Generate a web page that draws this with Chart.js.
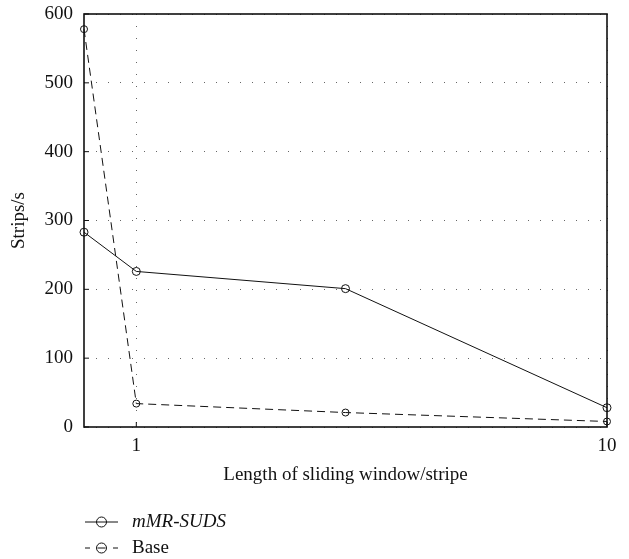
<!DOCTYPE html>
<html>
<head>
<meta charset="utf-8">
<script src="https://cdn.jsdelivr.net/npm/chart.js@4"></script>
<style>
  html, body { margin: 0; padding: 0; background: #fff; }
  #wrap { width: 629px; height: 559px; }
</style>
</head>
<body>
<div id="wrap"><canvas id="speedChart" width="629" height="559"></canvas></div>
<script>
// 가로축: sliding window/stripe 길이
const windowLen = [0, 1, 5, 10];
const xTicks = [1, 10];
// 시리즈 값 (Strips/s)
const mmrSuds = [283, 226, 201, 28];
const baseVals = [578, 34, 21, 8];
const seriesNames = ['mMR-SUDS', 'Base'];

const serif = "'Liberation Serif', 'DejaVu Serif', serif";
const fontSize = 19;

function toPoints(ys) {
    return windowLen.map((x, i) => ({ x: x, y: ys[i] }));
}

// 박스 테두리 + 안쪽 눈금 + 아래 범례
const frameAndLegend = {
    id: 'frameAndLegend',
    afterDraw(chart) {
        const ctx = chart.ctx;
        const a = chart.chartArea;
        const xs = chart.scales.x, ys = chart.scales.y;
        ctx.save();
        ctx.strokeStyle = '#111';
        ctx.lineWidth = 1.6;
        ctx.strokeRect(a.left, a.top, a.right - a.left, a.bottom - a.top);
        ctx.lineWidth = 1;
        ys.ticks.forEach(t => {
            const py = ys.getPixelForValue(t.value);
            ctx.beginPath(); ctx.moveTo(a.left, py); ctx.lineTo(a.left + 5, py); ctx.stroke();
        });
        xs.ticks.forEach(t => {
            const px = xs.getPixelForValue(t.value);
            ctx.beginPath(); ctx.moveTo(px, a.bottom); ctx.lineTo(px, a.bottom - 5); ctx.stroke();
        });

        // 범례
        chart.data.datasets.forEach((ds, i) => {
            const y = 522 + i * 26;
            const x0 = 85, x1 = 118, cx = 101.5;
            ctx.strokeStyle = '#111';
            ctx.lineWidth = 1;
            if (ds.borderDash && ds.borderDash.length) {
                ctx.beginPath(); ctx.moveTo(x0, y); ctx.lineTo(x0 + 5, y); ctx.stroke();
                ctx.beginPath(); ctx.moveTo(x1 - 5, y); ctx.lineTo(x1, y); ctx.stroke();
                ctx.beginPath(); ctx.moveTo(cx - 4, y); ctx.lineTo(cx + 4, y); ctx.stroke();
            } else {
                ctx.beginPath(); ctx.moveTo(x0, y); ctx.lineTo(x1, y); ctx.stroke();
            }
            ctx.beginPath(); ctx.arc(cx, y, 5, 0, Math.PI * 2); ctx.stroke();
            ctx.fillStyle = '#111';
            ctx.font = (i === 0 ? 'italic ' : '') + fontSize + "px " + serif;
            ctx.textBaseline = 'middle';
            ctx.textAlign = 'left';
            ctx.fillText(ds.label, 132, y);
        });
        ctx.restore();
    }
};

const ChartA = document.getElementById('speedChart');
const speedChart = new Chart(ChartA, {
    type: 'line',
    data: {
        datasets: [{
            label: seriesNames[0],
            data: toPoints(mmrSuds),
            borderColor: '#111',
            borderWidth: 1,
            pointStyle: 'circle',
            pointRadius: 4,
            pointBorderWidth: 1,
            pointBorderColor: '#111',
            pointBackgroundColor: 'rgba(0,0,0,0)',
            tension: 0,
            clip: false
        },
        {
            label: seriesNames[1],
            data: toPoints(baseVals),
            borderColor: '#111',
            borderWidth: 1,
            borderDash: [8, 5],
            pointStyle: 'circle',
            pointRadius: 3.5,
            pointBorderWidth: 1,
            pointBorderColor: '#111',
            pointBackgroundColor: 'rgba(0,0,0,0)',
            tension: 0,
            clip: false
        }]
    },
    options: {
        responsive: false,
        animation: false,
        layout: { padding: { top: 14, right: 22, left: 0, bottom: 73 } },
        scales: {
            x: {
                type: 'linear',
                min: 0,
                max: 10,
                afterBuildTicks: (scale) => { scale.ticks = xTicks.map(v => ({ value: v })); },
                afterFit: (scale) => { scale.height = 59; scale.paddingRight = 0; scale.paddingLeft = 0; },
                grid: {
                    color: '#666',
                    lineWidth: 1,
                    drawTicks: false
                },
                border: { display: false, dash: [1, 11] },
                ticks: {
                    color: '#111',
                    padding: 8,
                    maxRotation: 0,
                    font: { family: serif, size: fontSize }
                },
                title: {
                    display: true,
                    text: 'Length of sliding window/stripe',
                    color: '#111',
                    font: { family: serif, size: fontSize },
                    padding: { top: 6, bottom: 0 }
                }
            },
            y: {
                min: 0,
                max: 600,
                ticks: {
                    stepSize: 100,
                    color: '#111',
                    padding: 11,
                    font: { family: serif, size: fontSize }
                },
                afterFit: (scale) => { scale.width = 84; scale.paddingTop = 0; scale.paddingBottom = 0; },
                grid: {
                    color: '#666',
                    lineWidth: 1,
                    drawTicks: false
                },
                border: { display: false, dash: [1, 11] },
                title: {
                    display: true,
                    text: 'Strips/s',
                    color: '#111',
                    font: { family: serif, size: fontSize },
                    padding: { top: 8, bottom: 6 }
                }
            }
        },
        plugins: {
            legend: { display: false },
            tooltip: { enabled: false }
        }
    },
    plugins: [frameAndLegend]
});
</script>
</body>
</html>
